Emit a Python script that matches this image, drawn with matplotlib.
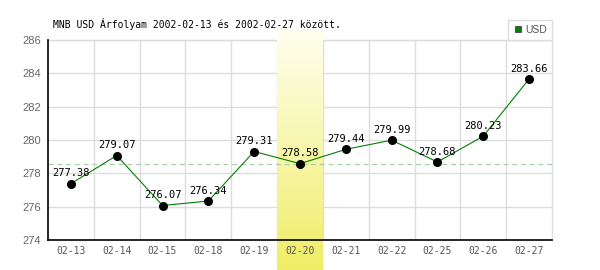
import matplotlib
matplotlib.use("Agg")
import matplotlib.pyplot as plt
import numpy as np
from matplotlib.lines import Line2D

dates = ["02-13", "02-14", "02-15", "02-18", "02-19", "02-20",
         "02-21", "02-22", "02-25", "02-26", "02-27"]
usd = [277.38, 279.07, 276.07, 276.34, 279.31, 278.58,
       279.44, 279.99, 278.68, 280.23, 283.66]
highlight_index = 5
reference_value = 278.58
y_ticks = [274, 276, 278, 280, 282, 284, 286]
title = "MNB USD Árfolyam 2002-02-13 és 2002-02-27 között."
series_name = "USD"

W, H = 600, 270
fig = plt.figure(figsize=(W / 100, H / 100), dpi=100)
L, R, T, B = 48, 552, 40, 240
ax = fig.add_axes([L / W, 1 - B / H, (R - L) / W, (B - T) / H])

x = np.arange(len(dates))
ax.set_xlim(-0.5, len(dates) - 0.5)
ax.set_ylim(y_ticks[0], y_ticks[-1])

ax.set_yticks(y_ticks)
ax.set_xticks(x)
ax.grid(False)
ax.tick_params(which="both", length=0)
ax.tick_params(axis="x", pad=4)
ax.tick_params(axis="y", pad=5)
ax.set_xticklabels(dates, family="DejaVu Sans Mono", fontsize=7, color="#555555")
for lab in ax.get_yticklabels():
    lab.set_family("Liberation Sans")
    lab.set_fontsize(8)
    lab.set_color("#666666")
ax.xaxis.set_zorder(6)
ax.yaxis.set_zorder(6)

# grid lines drawn beneath the highlight
for yv in y_ticks[1:]:
    ax.axhline(yv, color="#dddddd", linewidth=1, zorder=0.5)
for xv in x[1:] - 0.5:
    ax.axvline(xv, color="#dddddd", linewidth=1, zorder=0.5)

for s in ["top", "right"]:
    ax.spines[s].set_color("#dddddd")
    ax.spines[s].set_linewidth(1)
    ax.spines[s].set_zorder(0.6)
for s in ["left", "bottom"]:
    ax.spines[s].set_color("black")
    ax.spines[s].set_linewidth(1.2)
    ax.spines[s].set_zorder(6)

# highlight column with gradient, extending beyond axes
yspan = y_ticks[-1] - y_ticks[0]
px_per_unit = (B - T) / yspan
y_bot = y_ticks[0] - (H - B) / px_per_unit
y_top = y_ticks[-1] + (T - 29) / px_per_unit
grad = np.linspace(0, 1, 256).reshape(-1, 1)
top_c = np.array([1.0, 1.0, 0.94])
bot_c = np.array([0.94, 0.93, 0.40])
img = top_c[None, None, :] * (1 - grad[:, :, None]) + bot_c[None, None, :] * grad[:, :, None]
ax.imshow(img, extent=(highlight_index - 0.5, highlight_index + 0.5, y_bot, y_top),
          origin="upper", aspect="auto", zorder=1, clip_on=False, interpolation="bilinear")
ax.set_xlim(-0.5, len(dates) - 0.5)
ax.set_ylim(y_ticks[0], y_ticks[-1])

# reference dashed line
ax.axhline(reference_value, color="#a8d0a8", linewidth=0.9, dashes=(4, 3), zorder=2)

# series
ax.plot(x, usd, color="#008000", linewidth=0.8, zorder=3)
ax.plot(x, usd, linestyle="none", marker="o", markersize=5.5,
        color="black", zorder=4)
for xi, v in zip(x, usd):
    ax.annotate(f"{v:.2f}", (xi, v), xytext=(0, 7.5), textcoords="offset points",
                ha="center", va="center", family="DejaVu Sans Mono",
                fontsize=7.5, color="black", zorder=5)

# title
fig.text(53 / W, 1 - 24 / H, title, family="DejaVu Sans Mono", fontsize=7,
         ha="left", va="center", color="black")

# legend
handle = Line2D([], [], linestyle="none", marker="s", markersize=5,
                markerfacecolor="#008000", markeredgecolor="#444444",
                markeredgewidth=0.6)
leg = ax.legend([handle], [series_name], loc="lower right",
                bbox_to_anchor=(1.0, 1.0), borderaxespad=0,
                frameon=True, fancybox=False, framealpha=1,
                edgecolor="#dddddd", handlelength=0.8, handletextpad=0.3,
                borderpad=0.5, prop={"family": "Liberation Sans", "size": 7.5})
for t in leg.get_texts():
    t.set_color("#555555")
leg.get_frame().set_linewidth(1)

fig.savefig("out.png", dpi=100, facecolor="white")
